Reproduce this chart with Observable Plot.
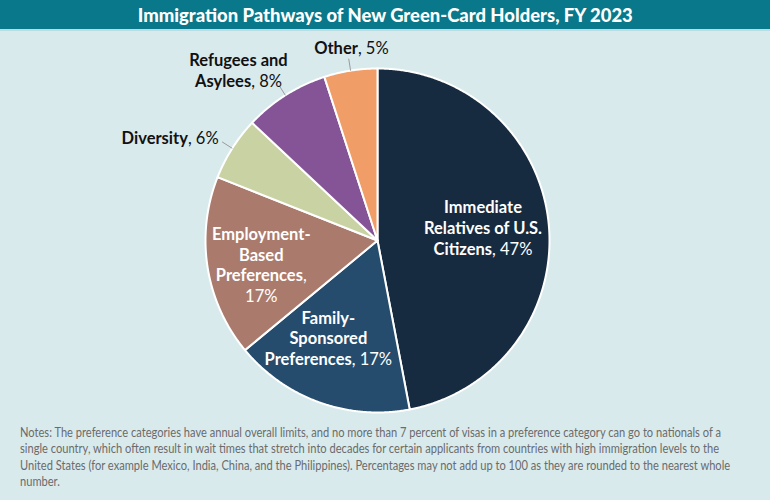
<!DOCTYPE html>
<html><head><meta charset="utf-8">
<script src="https://cdn.jsdelivr.net/npm/d3@7"></script>
<script src="https://cdn.jsdelivr.net/npm/@observablehq/plot@0.6"></script>
<style>
html,body{margin:0;padding:0;background:#d9eaed;width:770px;height:500px;overflow:hidden;}
#title{height:29px;background:#08788a;color:#fff;font:900 19px Lato,sans-serif;display:flex;align-items:center;justify-content:center;border-bottom:2px solid #bcdce1;}
#title span{display:inline-block;white-space:nowrap;}
#chart svg{display:block}
#notes{position:absolute;left:20px;top:424px;font:13px Lato,sans-serif;color:#6b6b6b;line-height:16.3px;}
#notes div{white-space:nowrap;transform-origin:left center;width:max-content;}
</style></head>
<body>
<div id="title"><span id="ttl">Immigration Pathways of New Green-Card Holders, FY 2023</span></div>
<div id="chart"></div>
<div id="notes"></div>
<script>
// ---- data ----
const categories = ["Immediate Relatives of U.S. Citizens","Family-Sponsored Preferences","Employment-Based Preferences","Diversity","Refugees and Asylees","Other"];
const shares = [47, 17, 17, 6, 8, 5];
const labelLines = ["Immediate\nRelatives of U.S.\nCitizens", "Family-\nSponsored\nPreferences", "Employment-\nBased\nPreferences", "Diversity", "Refugees and\nAsylees", "Other"];
const colors = ["#172b40","#264c6d","#aa7b6c","#c9d2a3","#855497","#f09d68"];
const noteLines = [
  "Notes: The preference categories have annual overall limits, and no more than 7 percent of visas in a preference category can go to nationals of a",
  "single country, which often result in wait times that stretch into decades for certain applicants from countries with high immigration levels to the",
  "United States (for example Mexico, India, China, and the Philippines). Percentages may not add up to 100 as they are rounded to the nearest whole",
  "number."
];

// ---- layout (label placement relative to slice centroid) ----
const labelLayout = [
  {r:0.618, da:-1.7, inside:true,  anchor:"middle", sep:", "},
  {r:0.634, da:7,    inside:true,  anchor:"middle", sep:", "},
  {r:0.69,  da:-2.6, inside:true,  anchor:"middle", sep:",\n"},
  {r:1.10,  da:0.5,  inside:false, anchor:"end",    sep:", "},
  {r:1.279, da:-6.8, inside:false, anchor:"middle", sep:", "},
  {r:1.132, da:1.3,  inside:false, anchor:"middle", sep:", "}
];

const R = 172, cx = 377, cy = 209;
const arcs = d3.pie().sort(null).value(d => d)(shares);
const deg = Math.PI / 180;

const slicePts = [];
arcs.forEach((a, i) => {
  slicePts.push({key: categories[i], x: 0, y: 0});
  const n = Math.max(2, Math.ceil((a.endAngle - a.startAngle) / (0.4 * deg)));
  for (let k = 0; k <= n; k++) {
    const t = a.startAngle + (a.endAngle - a.startAngle) * k / n;
    slicePts.push({key: categories[i], x: Math.sin(t), y: Math.cos(t)});
  }
});

const labels = arcs.map((a, i) => {
  const L = labelLayout[i];
  const mid = (a.startAngle + a.endAngle) / 2 + L.da * deg;
  return {key: categories[i], x: L.r * Math.sin(mid), y: L.r * Math.cos(mid),
          text: labelLines[i] + L.sep + shares[i] + "%", inside: L.inside, anchor: L.anchor};
});

const leaders = arcs.map((a, i) => {
  const mid = (a.startAngle + a.endAngle) / 2;
  return {inside: labelLayout[i].inside, x1: Math.sin(mid), y1: Math.cos(mid), x2: 1.07 * Math.sin(mid), y2: 1.07 * Math.cos(mid)};
}).filter(d => !d.inside);

const textMark = (data, fill, anchor) => Plot.text(data, {
  x: "x", y: "y", text: "text", fill, textAnchor: anchor, lineAnchor: "middle",
  fontSize: 16.5, lineHeight: 1.25, fontWeight: "normal", className: "lbl"
});

const chart = Plot.plot({
  width: 770, height: 389, margin: 0,
  x: {domain: [-1, 1], range: [cx - R, cx + R], axis: null},
  y: {domain: [-1, 1], range: [cy + R, cy - R], axis: null},
  color: {domain: categories, range: colors},
  style: {background: "transparent", fontFamily: "Lato, sans-serif"},
  marks: [
    Plot.line(slicePts, {x: "x", y: "y", z: "key", fill: "key", stroke: "white", strokeWidth: 2, curve: "linear-closed", strokeLinejoin: "round"}),
    Plot.link(leaders, {x1: "x1", y1: "y1", x2: "x2", y2: "y2", stroke: "#9a9a9a", strokeWidth: 1}),
    textMark(labels.filter(d => d.inside), "white", "middle"),
    textMark(labels.filter(d => !d.inside && d.anchor === "middle"), "#111", "middle"),
    textMark(labels.filter(d => !d.inside && d.anchor === "end"), "#111", "end")
  ]
});
document.getElementById("chart").appendChild(chart);

// bold category names, regular percentages
const NS = "http://www.w3.org/2000/svg";
chart.querySelectorAll(".lbl text").forEach(t => {
  const spans = t.querySelectorAll("tspan");
  const lines = spans.length ? Array.from(spans) : [t];
  lines.forEach(el => {
    const s = el.textContent;
    let bold = s, reg = "";
    if (/^\d+%$/.test(s)) { bold = ""; reg = s; }
    else if (s.lastIndexOf(", ") >= 0) { const p = s.lastIndexOf(", "); bold = s.slice(0, p); reg = s.slice(p); }
    else if (s.endsWith(",")) { bold = s.slice(0, -1); reg = ","; }
    el.textContent = "";
    if (bold) { const b = document.createElementNS(NS, "tspan"); b.setAttribute("font-weight", "bold"); b.textContent = bold; el.appendChild(b); }
    if (reg) { const r = document.createElementNS(NS, "tspan"); r.textContent = reg; el.appendChild(r); }
  });
});

// notes
const notes = document.getElementById("notes");
const divs = noteLines.map(l => { const d = document.createElement("div"); d.textContent = l; notes.appendChild(d); return d; });
const sc = 701 / divs[0].getBoundingClientRect().width;
divs.forEach(d => d.style.transform = `scaleX(${sc})`);

// title condensed to reference width
const ttl = document.getElementById("ttl");
const ts = 495 / ttl.getBoundingClientRect().width;
ttl.style.transform = `scaleX(${ts})`;
</script>
</body></html>
